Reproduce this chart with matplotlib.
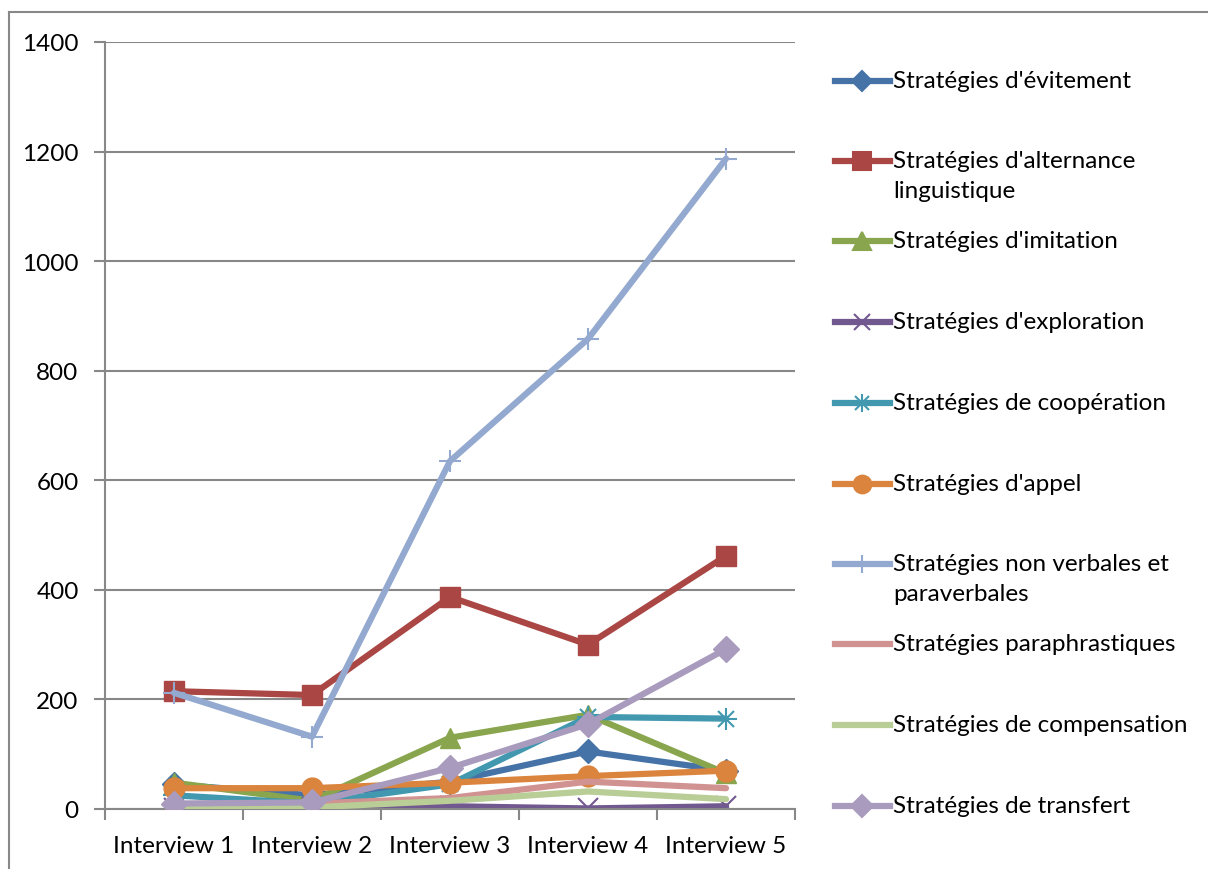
import matplotlib
matplotlib.use("Agg")
import matplotlib.pyplot as plt
from matplotlib.lines import Line2D

plt.rcParams['font.family'] = ['Lato', 'DejaVu Sans']

# categories and values
interviews = ["Interview 1", "Interview 2", "Interview 3", "Interview 4", "Interview 5"]

evitement = [45, 25, 50, 105, 70]
alternance = [215, 208, 387, 300, 462]
imitation = [48, 15, 130, 172, 65]
exploration = [2, 3, 5, 1, 5]
cooperation = [25, 10, 45, 168, 165]
appel = [38, 38, 48, 60, 70]
non_verbales = [212, 132, 635, 858, 1187]
paraphrastiques = [2, 10, 20, 50, 38]
compensation = [0, 3, 15, 32, 18]
transfert = [10, 12, 75, 155, 292]

labels = ["Stratégies d'évitement", "Stratégies d'alternance\nlinguistique",
          "Stratégies d'imitation", "Stratégies d'exploration",
          "Stratégies de coopération", "Stratégies d'appel",
          "Stratégies non verbales et\nparaverbales", "Stratégies paraphrastiques",
          "Stratégies de compensation", "Stratégies de transfert"]

series = [evitement, alternance, imitation, exploration, cooperation,
          appel, non_verbales, paraphrastiques, compensation, transfert]
colors = ["#4572a7", "#aa4643", "#89a54e", "#71588f", "#4198af",
          "#db843d", "#93a9cf", "#d19392", "#b9cd96", "#a99bbd"]
markers = ["D", "s", "^", "x", "*", "o", "+", None, None, "D"]
msizes = [12, 15, 15, 14, 16, 15, 16, 0, 0, 13]

fig = plt.figure(figsize=(12.08, 8.7), dpi=100)
ax = fig.add_axes([105/1208, 1 - 810/870, 690/1208, 767/870])

x = list(range(len(interviews)))
# later series are drawn on top, like Excel
for i in range(len(series)):
    mk = markers[i]
    z = 2 + i * 0.1
    kw = dict(color=colors[i], linewidth=4.5, solid_capstyle="round")
    if mk == "*":
        ax.plot(x, series[i], zorder=z, **kw)
        ax.plot(x, series[i], marker="x", markersize=12, markeredgewidth=1.5,
                color=colors[i], linestyle="none", zorder=z)
        ax.plot(x, series[i], marker="+", markersize=16, markeredgewidth=1.5,
                color=colors[i], linestyle="none", zorder=z)
    elif mk in ("x", "+"):
        ax.plot(x, series[i], marker=mk, markersize=msizes[i], markeredgewidth=1.5,
                zorder=z, **kw)
    elif mk is not None:
        ax.plot(x, series[i], marker=mk, markersize=msizes[i],
                markeredgecolor=colors[i], zorder=z, **kw)
    else:
        ax.plot(x, series[i], zorder=z, **kw)

ax.set_xlim(-0.5, 4.5)
ax.set_ylim(0, 1400)
ax.set_yticks(range(0, 1401, 200))
ax.set_xticks(x)
ax.set_xticklabels(interviews)
ax.set_xticks([i - 0.5 for i in range(6)], minor=True)
ax.tick_params(axis="x", which="major", length=0, labelsize=17.5, pad=19)
ax.tick_params(axis="x", which="minor", length=8, width=1.5, color="#888888")
ax.tick_params(axis="y", length=8, width=1.5, color="#888888", labelsize=17.5, pad=11)
ax.grid(axis="y", color="#888888", linewidth=1.5)
ax.set_axisbelow(True)
for s in ["top", "right"]:
    ax.spines[s].set_visible(False)
for s in ["left", "bottom"]:
    ax.spines[s].set_color("#888888")
    ax.spines[s].set_linewidth(1.5)

# manual legend, one slot per series
W, H = 1208, 870
slot_y = [82, 162, 242, 323, 404, 485, 565, 645, 726, 807]
for i in range(len(series)):
    yy = 1 - slot_y[i] / H
    fig.add_artist(Line2D([835/W, 890/W], [yy, yy], color=colors[i], linewidth=4.5,
                          transform=fig.transFigure))
    mk = markers[i]
    if mk == "*":
        fig.add_artist(Line2D([862/W], [yy], marker="x", markersize=10, markeredgewidth=1.5,
                              color=colors[i], transform=fig.transFigure))
        fig.add_artist(Line2D([862/W], [yy], marker="+", markersize=13, markeredgewidth=1.5,
                              color=colors[i], transform=fig.transFigure))
    elif mk is not None:
        fig.add_artist(Line2D([862/W], [yy], marker=mk, markersize=msizes[i] * 0.85,
                              markeredgewidth=1.5, color=colors[i],
                              transform=fig.transFigure))
    fig.text(893/W, yy + 11/H, labels[i], fontsize=17.5, va="top", ha="left",
             linespacing=1.55)

# outer chart frame
fig.add_artist(Line2D([9/W, 9/W], [0, 1 - 13/H], color="#888888", linewidth=1.5))
fig.add_artist(Line2D([9/W, 1], [1 - 13/H, 1 - 13/H], color="#888888", linewidth=1.5))

fig.savefig("out.png", dpi=100)
